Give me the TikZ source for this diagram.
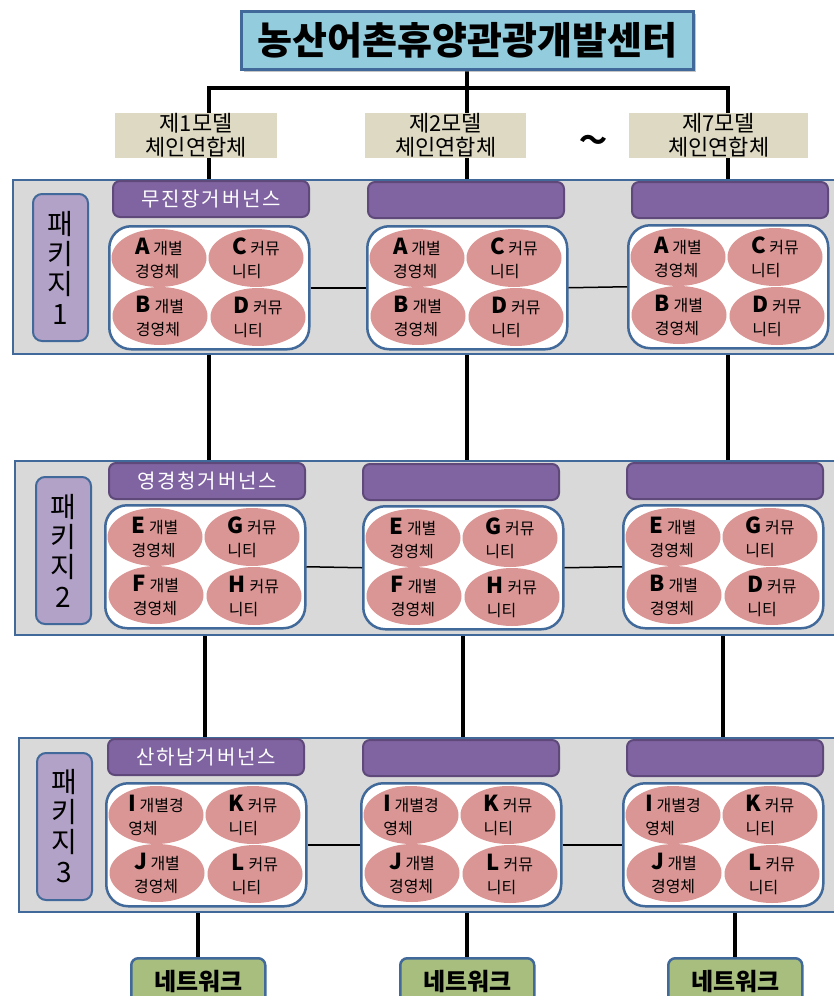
\documentclass[tikz,border=0pt]{standalone}
\usepackage{fontspec}
\setmainfont{Noto Sans CJK KR}
\usetikzlibrary{shapes.geometric,shadows,backgrounds}
\definecolor{titlefill}{HTML}{93CDDD}
\definecolor{edgeblue}{HTML}{41699A}
\definecolor{beige}{HTML}{DDD9C3}
\definecolor{panelgray}{HTML}{D9D9D9}
\definecolor{lav}{HTML}{B3A2C7}
\definecolor{purp}{HTML}{8064A2}
\definecolor{purpedge}{HTML}{5F497A}
\definecolor{blobpink}{HTML}{D99694}
\definecolor{olive}{HTML}{A8BE7E}
\tikzset{
  x=1pt, y=-1pt,
  titlebox/.style={draw=edgeblue, line width=2.5pt, fill=titlefill, minimum width=452pt, minimum height=58pt, inner sep=0, font=\fontsize{38}{40}\selectfont\bfseries, drop shadow={shadow xshift=3pt, shadow yshift=-3pt, fill=black!45}},
  modelbox/.style={fill=beige, minimum height=45pt, inner sep=0, align=center, font=\fontsize{22}{24}\selectfont},
  panel/.style={draw=edgeblue, line width=2pt, fill=panelgray, rectangle, inner sep=0, minimum height=174pt},
  pkglabel/.style={draw=edgeblue, line width=2pt, fill=lav, rounded corners=9pt, minimum width=55pt, minimum height=147pt, inner sep=0, align=center, font=\fontsize{28}{30}\selectfont},
  hdr/.style={draw=purpedge, line width=2pt, fill=purp, rounded corners=7pt, minimum width=196pt, minimum height=36pt, inner sep=0, text=white, font=\fontsize{20}{22}\selectfont\addfontfeature{LetterSpace=9}},
  wbox/.style={draw=edgeblue, line width=2.5pt, fill=white, rounded corners=22pt, minimum width=200pt, minimum height=123pt, inner sep=0},
  blob/.style={ellipse, fill=blobpink, minimum width=95pt, minimum height=58pt, inner sep=0, align=left, font=\fontsize{16}{23}\selectfont},
  netbox/.style={draw=edgeblue, line width=2.5pt, fill=olive, rounded corners=7pt, minimum width=134pt, minimum height=46pt, inner sep=0, font=\fontsize{24}{26}\selectfont\bfseries},
  tree/.style={line width=4pt},
  link/.style={line width=1.5pt}
}
\newcommand{\Ltr}[1]{{\fontsize{22}{23}\selectfont\bfseries #1}}
\newcommand{\fourblobs}[5]{%
  \node[blob] (#1-a) at ([shift={(51,33)}]#1.north west) {#2};
  \node[blob] (#1-c) at ([shift={(148,33)}]#1.north west) {#3};
  \node[blob] (#1-b) at ([shift={(52,91)}]#1.north west) {#4};
  \node[blob] (#1-d) at ([shift={(150,92)}]#1.north west) {#5};
}
\begin{document}
\begin{tikzpicture}
\useasboundingbox (0,0) rectangle (834,996);

% title
\node[titlebox, anchor=north west] (title) at (240,10) {농산어촌휴양관광개발센터};

% package 1
\node[panel, anchor=north west, minimum width=840pt] (p1) at (12,179) {};
\node[pkglabel, anchor=north west] (k1) at (32,193) {패\\키\\지\\1};
\node[hdr, anchor=north west] (h11) at (112,180) {무진장거버넌스};
\node[hdr, anchor=north west] (h12) at (367,181) {};
\node[hdr, anchor=north west] (h13) at (631,181) {};
\node[wbox, anchor=north west] (w11) at (108,225) {};
\node[wbox, anchor=north west] (w12) at (366,225) {};
\node[wbox, anchor=north west] (w13) at (627,224) {};
\fourblobs{w11}{\Ltr{A} 개별\\경영체}{\Ltr{C} 커뮤\\니티}{\Ltr{B} 개별\\경영체}{\Ltr{D} 커뮤\\니티}
\fourblobs{w12}{\Ltr{A} 개별\\경영체}{\Ltr{C} 커뮤\\니티}{\Ltr{B} 개별\\경영체}{\Ltr{D} 커뮤\\니티}
\fourblobs{w13}{\Ltr{A} 개별\\경영체}{\Ltr{C} 커뮤\\니티}{\Ltr{B} 개별\\경영체}{\Ltr{D} 커뮤\\니티}

% package 2
\node[panel, anchor=north west, minimum width=840pt] (p2) at (14,460) {};
\node[pkglabel, anchor=north west] (k2) at (35,476) {패\\키\\지\\2};
\node[hdr, anchor=north west] (h21) at (108,462) {영경청거버넌스};
\node[hdr, anchor=north west] (h22) at (362,463) {};
\node[hdr, anchor=north west] (h23) at (626,462) {};
\node[wbox, anchor=north west] (w21) at (104,504) {};
\node[wbox, anchor=north west] (w22) at (362,505) {};
\node[wbox, anchor=north west] (w23) at (622,504) {};
\fourblobs{w21}{\Ltr{E} 개별\\경영체}{\Ltr{G} 커뮤\\니티}{\Ltr{F} 개별\\경영체}{\Ltr{H} 커뮤\\니티}
\fourblobs{w22}{\Ltr{E} 개별\\경영체}{\Ltr{G} 커뮤\\니티}{\Ltr{F} 개별\\경영체}{\Ltr{H} 커뮤\\니티}
\fourblobs{w23}{\Ltr{E} 개별\\경영체}{\Ltr{G} 커뮤\\니티}{\Ltr{B} 개별\\경영체}{\Ltr{D} 커뮤\\니티}

% package 3
\node[panel, anchor=north west, minimum width=840pt] (p3) at (18,737) {};
\node[pkglabel, anchor=north west] (k3) at (36,752) {패\\키\\지\\3};
\node[hdr, anchor=north west] (h31) at (107,738) {산하남거버넌스};
\node[hdr, anchor=north west] (h32) at (362,739) {};
\node[hdr, anchor=north west] (h33) at (626,739) {};
\node[wbox, anchor=north west] (w31) at (105,782) {};
\node[wbox, anchor=north west] (w32) at (360,782) {};
\node[wbox, anchor=north west] (w33) at (622,782) {};
\fourblobs{w31}{\Ltr{I} 개별경\\영체}{\Ltr{K} 커뮤\\니티}{\Ltr{J} 개별\\경영체}{\Ltr{L} 커뮤\\니티}
\fourblobs{w32}{\Ltr{I} 개별경\\영체}{\Ltr{K} 커뮤\\니티}{\Ltr{J} 개별\\경영체}{\Ltr{L} 커뮤\\니티}
\fourblobs{w33}{\Ltr{I} 개별경\\영체}{\Ltr{K} 커뮤\\니티}{\Ltr{J} 개별\\경영체}{\Ltr{L} 커뮤\\니티}

% model labels
\node[modelbox, minimum width=162pt, anchor=north west] (m1) at (115,113) {제1모델\\체인연합체};
\node[modelbox, minimum width=161pt, anchor=north west] (m2) at (365,113) {제2모델\\체인연합체};
\node[modelbox, minimum width=179pt, anchor=north west] (m3) at (629,113) {제7모델\\체인연합체};
\node[font=\fontsize{28}{28}\selectfont\bfseries] (tl) at (593,143) {～};

% networks
\node[netbox, anchor=north west] (n1) at (130,957) {네트워크};
\node[netbox, anchor=north west] (n2) at (399,957) {네트워크};
\node[netbox, anchor=north west] (n3) at (667,957) {네트워크};

\coordinate (j) at (463,88);

\begin{pgfonlayer}{background}
  \draw[tree] (title.south) -- (title.south |- j);
  \draw[tree] (p1.north -| w11) -- (j -| w11) -- (j -| w13) -- (p1.north -| w13);
  \draw[tree] (j -| w12) -- (p1.north -| w12);
  \foreach \c in {1,2,3} {
    \draw[tree] (p1.south -| w1\c) -- (p2.north -| w1\c);
    \draw[tree] (p2.south -| w2\c) -- (p3.north -| w2\c);
    \draw[tree] (p3.south -| n\c) -- (n\c.north);
  }
\end{pgfonlayer}
\foreach \r in {1,2,3} {
  \draw[link] (w\r1.east) -- (w\r2.west);
  \draw[link] (w\r2.east) -- (w\r3.west);
}
\end{tikzpicture}
\end{document}
